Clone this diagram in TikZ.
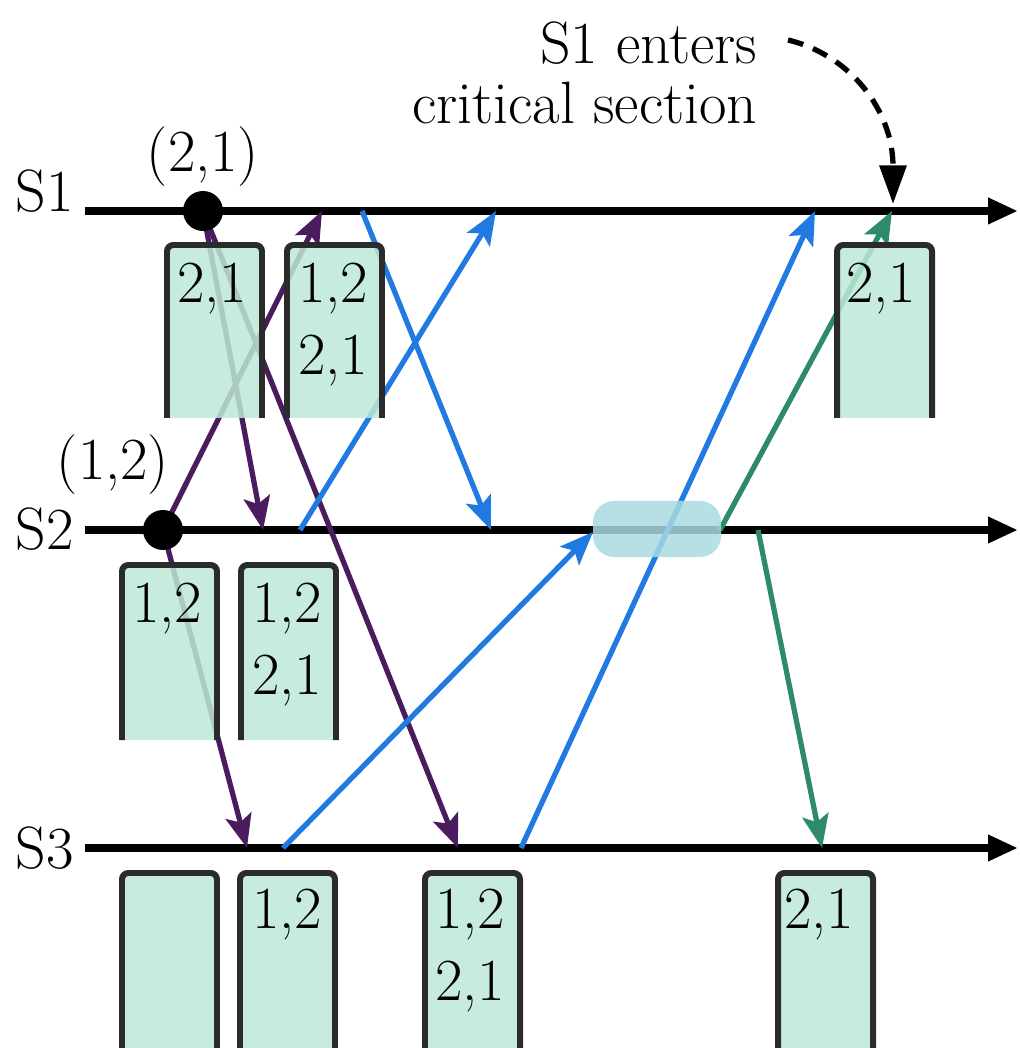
\documentclass[tikz,border=0pt]{standalone}
\usepackage{fontspec}
\usetikzlibrary{arrows.meta}

\definecolor{msgpurple}{HTML}{4B1B60}
\definecolor{msgblue}{HTML}{2179E2}
\definecolor{msggreen}{HTML}{2E8B69}
\definecolor{qfill}{HTML}{BDE8D6}
\definecolor{qedge}{HTML}{2B2B2B}
\definecolor{lockfill}{HTML}{A9D9E2}

\tikzset{
  timeline/.style={line width=2.3pt, -{Triangle[length=8.5pt,width=7pt]}},
  msg/.style={line width=1.5pt, -{Stealth[length=9.5pt,width=7.5pt,inset=2pt]}},
  qbox/.style={fill=qfill, fill opacity=0.85, draw=qedge, line width=1.7pt, rounded corners=1.8pt},
  lbl/.style={font=\rmfamily\fontsize{17}{17}\selectfont, inner sep=0pt},
}

\begin{document}
\begin{tikzpicture}[x=0.1mm,y=-0.1mm]
  \useasboundingbox (0,0) rectangle (1019,1048);

  % process lines
  \node[lbl, anchor=base west] (s1) at (15,212) {S1};
  \node[lbl, anchor=base west] (s2) at (15,550) {S2};
  \node[lbl, anchor=base west] (s3) at (15,868) {S3};
  \coordinate (b1) at (85,211);  \coordinate (f1) at (1018,211);
  \coordinate (b2) at (85,530);  \coordinate (f2) at (1018,530);
  \coordinate (b3) at (85,848);  \coordinate (f3) at (1018,848);
  \draw[timeline] (b1) -- (f1);
  \draw[timeline] (b2) -- (f2);
  \draw[timeline] (b3) -- (f3);

  % events
  \coordinate (ev21) at (203,211);
  \coordinate (r1a) at (322,211);  \coordinate (s1b) at (362,211);
  \coordinate (r1b) at (496,211);  \coordinate (r1c) at (815,211);
  \coordinate (r1d) at (892,211);
  \coordinate (ev12) at (163,530);
  \coordinate (r2a) at (263,530);  \coordinate (s2a) at (300,530);
  \coordinate (r2b) at (491,530);  \coordinate (r2c) at (593,532);
  \coordinate (s2c) at (720,530);  \coordinate (s2d) at (758,530);
  \coordinate (r3a) at (247,848);  \coordinate (s3a) at (283,848);
  \coordinate (r3b) at (458,848);  \coordinate (s3b) at (521,848);
  \coordinate (r3c) at (822,848);

  % requests
  \draw[msg, msgpurple] (ev21) -- (r2a);
  \draw[msg, msgpurple] (ev21) -- (r3b);
  \draw[msg, msgpurple] (ev12) -- (r1a);
  \draw[msg, msgpurple] (ev12) -- (r3a);
  % acks
  \draw[msg, msgblue] (s1b) -- (r2b);
  \draw[msg, msgblue] (s2a) -- (r1b);
  \draw[msg, msgblue] (s3a) -- (r2c);
  \draw[msg, msgblue] (s3b) -- (r1c);
  % release / ack
  \draw[msg, msggreen] (s2c) -- (r1d);
  \draw[msg, msggreen] (s2d) -- (r3c);

  % queues
  \foreach \bx/\bt/\bb in {167/245/418, 287/245/418, 837/245/418,
                           122/565/740, 241/565/740,
                           122/873/1050, 240/873/1050, 425/873/1050, 778/873/1050} {
    \path[qbox] (\bx,\bb) -- (\bx,\bt) -- ({\bx+95},\bt) -- ({\bx+95},\bb);
  }
  \node[lbl, anchor=base] (qa1) at (212,303) {2,1};
  \node[lbl, anchor=base] (qb1) at (333,303) {1,2};
  \node[lbl, anchor=base] (qb2) at (333,375) {2,1};
  \node[lbl, anchor=base] (qc1) at (881,303) {2,1};
  \node[lbl, anchor=base] (qd1) at (167,622) {1,2};
  \node[lbl, anchor=base] (qe1) at (287,622) {1,2};
  \node[lbl, anchor=base] (qe2) at (287,694) {2,1};
  \node[lbl, anchor=base] (qg1) at (287,928) {1,2};
  \node[lbl, anchor=base] (qh1) at (470,928) {1,2};
  \node[lbl, anchor=base] (qh2) at (470,1000) {2,1};
  \node[lbl, anchor=base] (qi1) at (819,928) {2,1};

  % S2 busy
  \node[fill=lockfill, fill opacity=0.85, rounded corners=6pt, minimum width=12.8mm,
        minimum height=5.6mm, inner sep=0pt] (lock) at (657,529) {};

  % timestamps
  \node[circle, fill=black, minimum size=4mm, inner sep=0pt] (d21) at (ev21) {};
  \node[circle, fill=black, minimum size=4mm, inner sep=0pt] (d12) at (ev12) {};
  \node[lbl, anchor=base] (t21) at (203,172) {(2,1)};
  \node[lbl, anchor=base] (t12) at (113,480) {(1,2)};

  % critical section note
  \node[lbl, align=right, anchor=north east] (crit) at (758,21) {S1 enters\\critical section};
  \coordinate (dstart) at (788,40);
  \coordinate (csin) at (893,204);
  \draw[line width=1.5pt, dash pattern=on 4.5pt off 3pt, -{Triangle[length=11pt,width=7.5pt]}]
    (dstart) .. controls (850,55) and (893,110) .. (csin);
\end{tikzpicture}
\end{document}
